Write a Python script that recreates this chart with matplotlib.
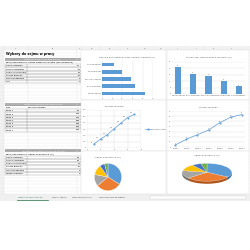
import matplotlib.pyplot as plt
from matplotlib.patches import Rectangle

# data (text is tiny, so labels are best guesses)
parties = ["Partia Kawowa", "Ruch Przerwowy", "Koalicja Urlopowa", "Sojusz Biurowy", "Front Nadgodzin"]
party_votes = [21, 16, 14, 10, 6]
stages = ["Etap 1", "Etap 2", "Etap 3", "Etap 4", "Etap 5", "Etap 6", "Etap 7"]
poll_x = [1, 2, 3, 4, 5, 6, 7]
poll_scores = [60, 140, 210, 300, 390, 480, 530]
stage_scores = [4, 15, 24, 33, 47, 58, 63]
pie_labels = ["Partia Kawowa", "Ruch Przerwowy", "Koalicja Urlopowa", "Sojusz Biurowy", "Front Nadgodzin", "Niezdecydowani"]
pie_shares = [34, 30, 14, 12, 6, 4]
tabs = ["Wybory do sejmu w pracy", "Wyniki - tabele", "Wyniki w procentach", "Wyniki sondażu wg etapów"]

colors = ["#5B9BD5", "#ED7D31", "#A5A5A5", "#FFC000", "#4472C4", "#70AD47"]
W = 250.0
fs = 1.6

fig = plt.figure(figsize=(2.5, 2.5), dpi=100)
bg = fig.add_axes([0, 0, 1, 1])
bg.set_xlim(0, W)
bg.set_ylim(W, 0)
bg.axis("off")

# sheet grid
top, bottom = 46, 194
bg.add_patch(Rectangle((0, top), W, 4, color="#f2f2f2", lw=0))
bg.add_patch(Rectangle((0, top), 4, bottom - top, color="#f2f2f2", lw=0))
col_edges = [4, 28, 77, 82, 100, 118, 136, 154, 168, 186, 204, 222, 240]
for x in col_edges:
    bg.plot([x, x], [top, bottom], color="#e3e3e3", lw=0.3)
y = top + 4
while y < bottom:
    bg.plot([0, W], [y, y], color="#e6e6e6", lw=0.25)
    y += 3.2
for i, x in enumerate(col_edges[:-1]):
    bg.text((x + col_edges[i + 1]) / 2, top + 2.2, "ABCDEFGHIJKLM"[i], fontsize=1.3,
            ha="center", va="center", color="#555555")
bg.text(6, 54, "Wybory do sejmu w pracy", fontsize=2.4, fontweight="bold", va="center")


def table(y0, title, head, labels, values):
    bg.add_patch(Rectangle((5, y0), 76, 3.4, color="#a6a6a6", lw=0))
    bg.text(43, y0 + 1.8, title, fontsize=1.5, color="white", ha="center", va="center")
    bg.text(6, y0 + 5, head[0], fontsize=fs, va="center")
    bg.text(28, y0 + 5, head[1], fontsize=fs, va="center")
    for i, (lab, val) in enumerate(zip(labels, values)):
        yy = y0 + 8.3 + i * 3.2
        bg.add_patch(Rectangle((5, yy - 1.6), 76, 3.2, fill=False, ec="#8c8c8c", lw=0.25))
        bg.plot([27, 27], [yy - 1.6, yy + 1.6], color="#8c8c8c", lw=0.25)
        bg.text(6, yy, lab, fontsize=fs, va="center")
        bg.text(80, yy, str(val), fontsize=fs, va="center", ha="right")


table(57.5, "WYNIKI W TABELI (DO BAR CHART)", ["Partia/Ugrupowanie", "Liczba oddanych głosów (skumulowana)"],
      parties + ["Inne"], party_votes + [3])
table(102.5, "WYNIKI LICZBOWE (DO LINE CHART)", ["Etap", "Wyniki sondażu"], stages, poll_scores)
table(149, "WYNIKI W PROCENTACH (DO PIE CHART)", ["Partia/Ugrupowanie", "Udział w wyborach (%)"],
      pie_labels, pie_shares)

# chart frames
for x0, y0, x1, y1 in [(81, 50, 166, 100), (167, 50, 249, 100), (81, 100, 166, 151),
                       (167, 100, 249, 151), (81, 151, 166, 194), (167, 151, 249, 194)]:
    bg.add_patch(Rectangle((x0, y0), x1 - x0, y1 - y0, fc="white", ec="#d9d9d9", lw=0.3, zorder=3))

# sheet tabs
bg.add_patch(Rectangle((0, 194), W, 7, color="#f0f0f0", lw=0))
tab_x = [18, 52, 72, 99]
for i, (tx, name) in enumerate(zip(tab_x, tabs)):
    bg.text(tx, 197.5, name, fontsize=1.4, va="center",
            color="#217346" if i == 0 else "#444444")
bg.plot([17, 48], [199.5, 199.5], color="#217346", lw=0.5)
bg.add_patch(Rectangle((150, 196), 96, 3, fc="white", ec="#cccccc", lw=0.3))


def px_axes(x0, y0, x1, y1):
    return fig.add_axes([x0 / W, 1 - y1 / W, (x1 - x0) / W, (y1 - y0) / W], zorder=5)


def style(ax, grid_axis):
    for s in ax.spines.values():
        s.set_visible(False)
    ax.tick_params(length=0, labelsize=1.3, pad=0.6, colors="#595959")
    ax.grid(axis=grid_axis, color="#d9d9d9", lw=0.3)
    ax.set_axisbelow(True)


# horizontal bar chart (smallest bar on top)
ax = px_axes(102, 61, 153, 97)
ax.barh(parties[::-1], party_votes[::-1], color=colors[0], height=0.5)
ax.invert_yaxis()
ax.set_xlim(0, 25)
ax.set_xticks(range(0, 26, 5))
style(ax, "x")
ax.set_title("Ranking partii według liczby oddanych głosów (%)", fontsize=1.6, pad=2.5, color="#595959")

# vertical bar chart
ax = px_axes(172, 62, 245, 94)
ax.bar(parties, party_votes, color=colors[0], width=0.4)
for i, v in enumerate(party_votes):
    ax.text(i, v + 0.6, str(v), fontsize=1.3, ha="center", color="#595959")
ax.set_ylim(0, 25)
ax.set_yticks(range(0, 26, 5))
style(ax, "y")
ax.set_title("Procentowy rozkład głosów dla partii (%)", fontsize=1.6, pad=3, color="#595959")

# scatter line chart
ax = px_axes(87, 110, 141, 148)
ax.plot(poll_x, poll_scores, color=colors[0], lw=0.5, marker="o", ms=0.5, label="Wyniki sondażu")
for x, v in zip(poll_x, poll_scores):
    ax.text(x - 0.2, v + 15, str(v), fontsize=1.2, ha="right", color="#595959")
ax.set_xlim(0, 8)
ax.set_ylim(0, 600)
ax.set_xticks(range(0, 9, 2))
style(ax, "both")
ax.set_title("Wyniki sondażu", fontsize=1.7, pad=2, color="#595959")
ax.legend(loc="center left", bbox_to_anchor=(1.05, 0.5), fontsize=1.3, frameon=False,
          handlelength=3, labelcolor="#595959")

# category line chart
ax = px_axes(172, 111, 245, 147)
ax.plot(stages, stage_scores, color=colors[0], lw=0.5, marker="o", ms=0.5)
for i, v in enumerate(stage_scores):
    ax.text(i, v + 2.5, str(v), fontsize=1.2, ha="center", color="#595959")
ax.set_ylim(0, 70)
style(ax, "y")
ax.set_title("Wyniki sondażu", fontsize=1.7, pad=2, color="#595959")

# flat pie
ax = px_axes(90, 160, 126, 194)
ax.pie(pie_shares, colors=colors, startangle=90, counterclock=False,
       wedgeprops=dict(ec="white", lw=0.2))
ax.set_title("Udział w wyborach (%)", fontsize=1.6, pad=1.5, color="#595959")

# tilted pie with a dark side band
ax = px_axes(180, 158, 234, 192)
dark = ["#3c6e9c", "#b0561d", "#727272", "#b68900", "#2f5597", "#4e7a31"]
for d in [0.28, 0.2, 0.12, 0.06]:
    ax.pie(pie_shares, colors=dark, startangle=90, counterclock=False, center=(0, -d))
ax.pie(pie_shares, colors=colors, startangle=90, counterclock=False,
       wedgeprops=dict(ec="white", lw=0.2))
ax.set_aspect("auto")
ax.set_xlim(-1.1, 1.1)
ax.set_ylim(-2.2, 1.6)
ax.set_title("Udział w wyborach (%)", fontsize=1.6, pad=1.5, color="#595959")

fig.savefig("out.png", dpi=100)
